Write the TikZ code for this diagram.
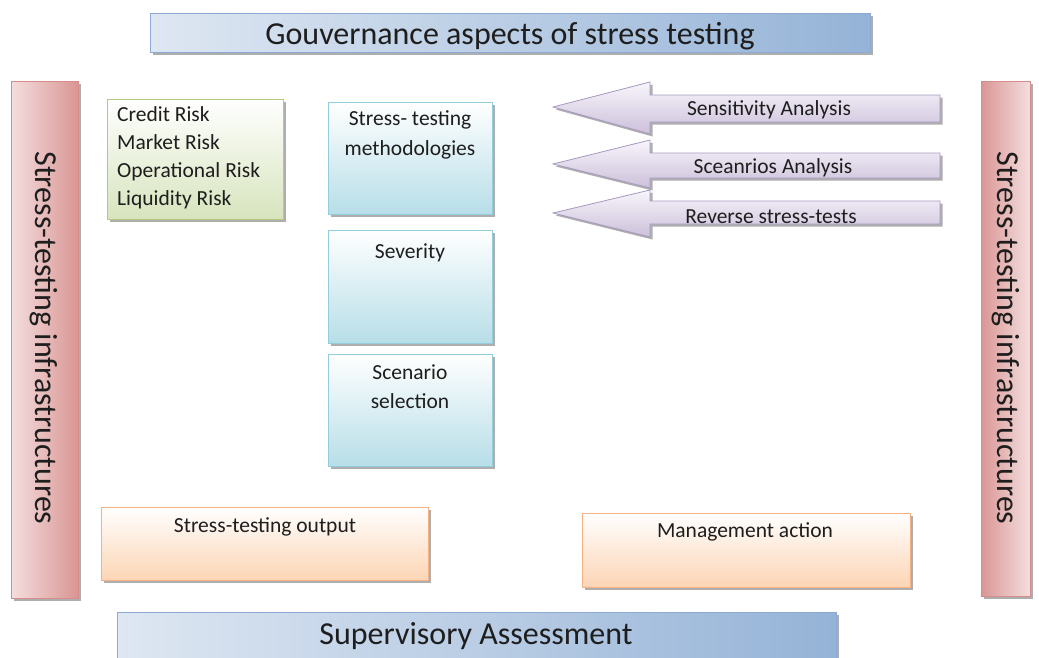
\documentclass[tikz,border=0pt]{standalone}
\usepackage{fontspec}
\setmainfont{Carlito}
\usetikzlibrary{shadows}
\definecolor{txt}{HTML}{1E1E1E}
\tikzset{
  shd/.style={drop shadow={shadow xshift=2.5pt,shadow yshift=-2.5pt,fill=black!45,opacity=0.7}},
  banner/.style={shd,draw={rgb,255:red,140;green,170;blue,210},line width=0.8pt,left color={rgb,255:red,222;green,231;blue,242},right color={rgb,255:red,149;green,179;blue,215}},
  bar/.style={shd,draw={rgb,255:red,215;green,140;blue,140},line width=0.8pt},
  greenbox/.style={shd,draw={rgb,255:red,179;green,204;blue,130},line width=0.8pt,top color=white,bottom color={rgb,255:red,215;green,228;blue,189}},
  cyanbox/.style={shd,draw={rgb,255:red,147;green,205;blue,221},line width=0.8pt,top color=white,bottom color={rgb,255:red,183;green,222;blue,232}},
  orangebox/.style={shd,draw={rgb,255:red,244;green,177;blue,131},line width=0.8pt,top color=white,bottom color={rgb,255:red,252;green,213;blue,181}},
  arrowshape/.style={shd,draw={rgb,255:red,166;green,152;blue,192},line width=0.8pt,top color={rgb,255:red,248;green,245;blue,251},bottom color={rgb,255:red,204;green,192;blue,218}},
  lbl/.style={text=txt,inner sep=0pt},
  big/.style={font=\fontsize{32}{36}\selectfont},
  small/.style={font=\fontsize{21.5}{29}\selectfont},
}
\begin{document}
\begin{tikzpicture}[x=1pt,y=-1pt]
\useasboundingbox (0,0) rectangle (1039,657);
% top banner
\path[banner] (150,13) rectangle (870,52);
\node[lbl,big] (gov) at (510,36) {Gouvernance aspects of stress testing};
% left bar
\path[bar,left color={rgb,255:red,244;green,222;blue,222},right color={rgb,255:red,217;green,150;blue,148}] (11,81) rectangle (78,598);
\node[lbl,rotate=-90,big] (infl) at (44,338) {Stress-testing infrastructures};
% right bar
\path[bar,left color={rgb,255:red,217;green,150;blue,148},right color={rgb,255:red,244;green,222;blue,222}] (981,81) rectangle (1030,596);
\node[lbl,rotate=-90,big] (infr) at (1006,338) {Stress-testing infrastructures};
% green box
\path[greenbox] (107,99) rectangle (283,219);
\node[lbl,anchor=north west,align=left,font=\fontsize{21.5}{28}\selectfont] (risks) at (117,106) {Credit Risk\\Market Risk\\Operational Risk\\Liquidity Risk};
% cyan boxes
\path[cyanbox] (328,102) rectangle (492,214);
\node[lbl,align=center,font=\fontsize{21.5}{30}\selectfont] (meth) at (410,135) {Stress- testing\\methodologies};
\path[cyanbox] (328,230) rectangle (492,343);
\node[lbl,small] (sev) at (410,253) {Severity};
\path[cyanbox] (328,354) rectangle (492,466);
\node[lbl,align=center,font=\fontsize{21.5}{29}\selectfont] (scen) at (410,387) {Scenario\\selection};
% arrows
\path[arrowshape] (553,107) -- (650,82) -- (650,95) -- (940,95) -- (940,122) -- (650,122) -- (650,134) -- cycle;
\node[lbl,small] (sens) at (769,110) {Sensitivity Analysis};
\path[arrowshape] (553,164) -- (650,140) -- (650,153) -- (940,153) -- (940,178) -- (650,178) -- (650,188) -- cycle;
\node[lbl,small] (sca) at (773,168) {Sceanrios Analysis};
\path[arrowshape] (553,213) -- (650,190) -- (650,201) -- (940,201) -- (940,224) -- (650,224) -- (650,237) -- cycle;
\begin{scope}
\clip (650,201) rectangle (940,223);
\node[lbl,small] (rev) at (771,217) {Reverse stress-tests};
\end{scope}
% orange boxes
\path[orangebox] (101,507) rectangle (428,580);
\node[lbl,small] (out) at (265,527) {Stress-testing output};
\path[orangebox] (582,513) rectangle (910,587);
\node[lbl,small] (mgmt) at (745,532) {Management action};
% bottom banner
\path[banner] (117,612) rectangle (836,664);
\node[lbl,big] (sup) at (476,636) {Supervisory Assessment};
\end{tikzpicture}
\end{document}
